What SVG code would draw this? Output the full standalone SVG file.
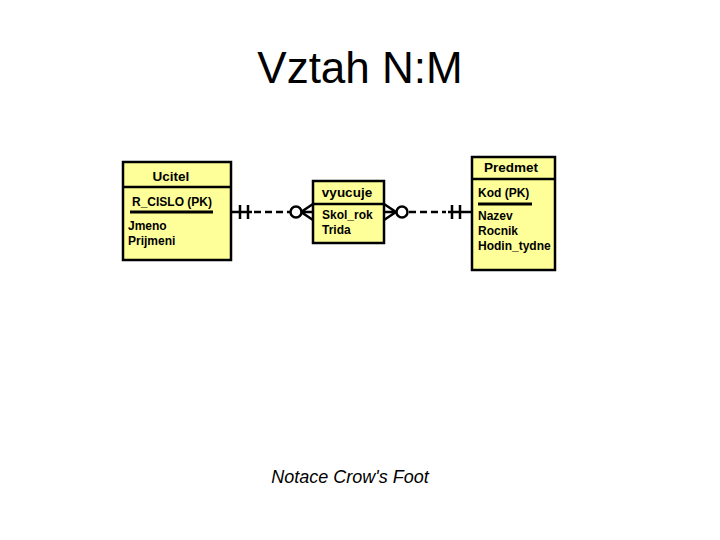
<svg xmlns="http://www.w3.org/2000/svg" width="720" height="540" viewBox="0 0 720 540">
<style>
.box{fill:#FFFF99;stroke:#000;stroke-width:2.5}
.div{stroke:#000;stroke-width:2.5}
.hd{font-family:"Liberation Sans",Arial,sans-serif;font-weight:bold;font-size:13.5px;fill:#000}
.at{font-family:"Liberation Sans",Arial,sans-serif;font-weight:bold;font-size:12px;fill:#000}
.ul{stroke:#000;stroke-width:3}
.ln{stroke:#000;stroke-width:2.5;fill:none}
.dash{stroke:#000;stroke-width:2.5;stroke-dasharray:7 4;fill:none}
</style>
<rect width="720" height="540" fill="#fff"/>
<text x="360" y="83" text-anchor="middle" font-family="Liberation Sans,Arial,sans-serif" font-size="44">Vztah N:M</text>
<g id="ucitel">
<rect class="box" x="123" y="162" width="108" height="98"/>
<line class="div" x1="123" y1="187" x2="231" y2="187"/>
<text class="hd" x="171" y="181" text-anchor="middle">Ucitel</text>
<text class="at" x="132" y="206">R_CISLO (PK)</text>
<line class="ul" x1="130" y1="212" x2="213" y2="212"/>
<text class="at" x="128" y="230">Jmeno</text>
<text class="at" x="128" y="245">Prijmeni</text>
</g>
<g id="vyucuje">
<rect class="box" x="313" y="181" width="71" height="62"/>
<line class="div" x1="313" y1="204" x2="384" y2="204"/>
<text class="hd" x="347" y="197" text-anchor="middle">vyucuje</text>
<text class="at" x="322" y="219">Skol_rok</text>
<text class="at" x="322" y="234">Trida</text>
</g>
<g id="predmet">
<rect class="box" x="472" y="157" width="83" height="113"/>
<line class="div" x1="472" y1="179" x2="555" y2="179"/>
<text class="hd" x="511" y="172" text-anchor="middle">Predmet</text>
<text class="at" x="478" y="197">Kod (PK)</text>
<line class="ul" x1="478" y1="204" x2="532" y2="204"/>
<text class="at" x="478" y="220">Nazev</text>
<text class="at" x="478" y="235">Rocnik</text>
<text class="at" x="478" y="250">Hodin_tydne</text>
</g>
<g id="connectors">
<line class="ln" x1="231" y1="212" x2="252" y2="212"/>
<line class="ln" x1="240" y1="205" x2="240" y2="219"/>
<line class="ln" x1="248" y1="205" x2="248" y2="219"/>
<line class="dash" x1="254" y1="212" x2="290" y2="212"/>
<circle class="ln" cx="296" cy="212" r="5.5"/>
<path class="ln" d="M301 212 L313 204 M301 212 L313 212 M301 212 L313 220"/>
<path class="ln" d="M396 212 L384 204 M396 212 L384 212 M396 212 L384 220"/>
<circle class="ln" cx="402" cy="212" r="5.5"/>
<line class="dash" x1="409" y1="212" x2="446" y2="212"/>
<line class="ln" x1="448" y1="212" x2="472" y2="212"/>
<line class="ln" x1="452" y1="205" x2="452" y2="219"/>
<line class="ln" x1="460" y1="205" x2="460" y2="219"/>
</g>
<text x="350" y="483" text-anchor="middle" font-family="Liberation Sans,Arial,sans-serif" font-style="italic" font-size="18">Notace Crow's Foot</text>
</svg>
